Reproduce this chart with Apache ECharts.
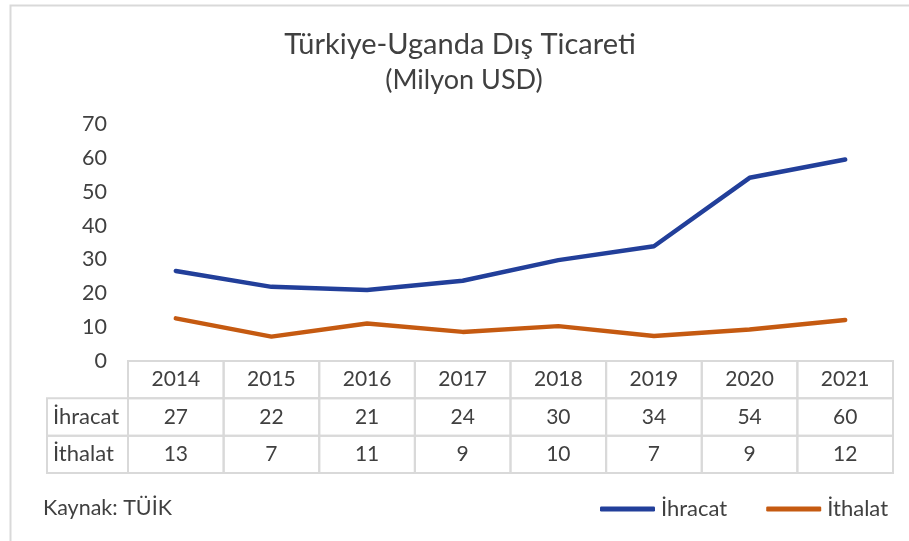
<!DOCTYPE html>
<html><head><meta charset="utf-8">
<script src="https://cdn.jsdelivr.net/npm/echarts@6/dist/echarts.min.js"></script>
<style>html,body{margin:0;padding:0;background:#fff}#c{width:909px;height:541px}</style>
</head><body><div id="c"></div>
<script>
const years = ['2014', '2015', '2016', '2017', '2018', '2019', '2020', '2021'];
const ihracat = [26.6, 21.9, 21.0, 23.7, 29.8, 33.9, 54.1, 59.5];
const ithalat = [12.6, 7.2, 11.1, 8.6, 10.3, 7.4, 9.3, 12.1];
const ihracatTable = ['27', '22', '21', '24', '30', '34', '54', '60'];
const ithalatTable = ['13', '7', '11', '9', '10', '7', '9', '12'];
const seriesNames = ['İhracat', 'İthalat'];
const yMin = 0, yMax = 70, yStep = 10;

const TEXT = '#404040';
const BORDER = '#d9d9d9';
const FONT = 'Lato';
const LABEL_W = 81;

// table cells
const cells = [];
years.forEach((y, i) => cells.push({ col: i, row: 0, text: y, kind: 'cell' }));
ihracatTable.forEach((v, i) => cells.push({ col: i, row: 1, text: v, kind: 'cell' }));
ithalatTable.forEach((v, i) => cells.push({ col: i, row: 2, text: v, kind: 'cell' }));
seriesNames.forEach((n, i) => cells.push({ col: 0, row: i + 1, text: n, kind: 'label' }));

function renderCell(params, api) {
  const cell = cells[params.dataIndex];
  const p = api.coord([api.value(0), api.value(1)]);
  const s = api.size([1, 1]);
  let x = p[0] - s[0] / 2, y = p[1] - s[1] / 2, w = s[0], h = s[1];
  const isLabel = cell.kind === 'label';
  if (isLabel) { x = x - LABEL_W; w = LABEL_W; }
  return {
    type: 'group',
    children: [
      { type: 'rect', shape: { x: x, y: y, width: w, height: h },
        style: { fill: 'none', stroke: BORDER, lineWidth: 2 } },
      { type: 'text',
        style: { text: cell.text, x: isLabel ? x + 6 : x + w / 2, y: y + h / 2,
          align: isLabel ? 'left' : 'center', verticalAlign: 'middle',
          fill: TEXT, font: (isLabel ? '22px ' : '21px ') + FONT } }
    ]
  };
}

const chart = echarts.init(document.getElementById('c'));
chart.setOption({
  backgroundColor: '#fff',
  animation: false,
  graphic: [{ type: 'rect', left: 8, top: 3, shape: { width: 1000, height: 1000 },
    style: { fill: 'none', stroke: BORDER, lineWidth: 2 }, silent: true }],
  title: [
    { text: 'Türkiye-Uganda Dış Ticareti', left: 460, top: 29, textAlign: 'center', padding: 0,
      textStyle: { fontFamily: FONT, fontSize: 29, fontWeight: 'normal', color: TEXT, lineHeight: 32 } },
    { text: '(Milyon USD)', left: 464, top: 64, textAlign: 'center', padding: 0,
      textStyle: { fontFamily: FONT, fontSize: 27, fontWeight: 'normal', color: TEXT, lineHeight: 32 } },
    { text: 'Kaynak: TÜİK', left: 43, top: 496, padding: 0,
      textStyle: { fontFamily: FONT, fontSize: 21.5, fontWeight: 'normal', color: TEXT, lineHeight: 24 } }
  ],
  legend: {
    left: 600, top: 498, padding: 0, itemWidth: 55, itemHeight: 5, itemGap: 39, icon: 'roundRect',
    textStyle: { fontFamily: FONT, fontSize: 22, color: TEXT, padding: [0, 0, 0, 1] },
    data: seriesNames
  },
  grid: [
    { left: 128, right: 16, top: 124, bottom: 180 },
    { left: 128, right: 16, top: 361, height: 112 }
  ],
  xAxis: [
    { type: 'category', gridIndex: 0, data: years, boundaryGap: true,
      axisLine: { show: false }, axisTick: { show: false }, axisLabel: { show: false } },
    { type: 'category', gridIndex: 1, data: years, boundaryGap: true, show: false }
  ],
  yAxis: [
    { type: 'value', gridIndex: 0, min: yMin, max: yMax, interval: yStep,
      axisLine: { show: false }, axisTick: { show: false }, splitLine: { show: false },
      axisLabel: { margin: 21, fontFamily: FONT, fontSize: 21.5, color: TEXT } },
    { type: 'category', gridIndex: 1, data: ['h', 'r1', 'r2'], inverse: true, show: false }
  ],
  series: [
    { name: seriesNames[0], type: 'line', data: ihracat, showSymbol: false, symbol: 'none',
      color: '#223f9a', lineStyle: { width: 4.5, color: '#223f9a', cap: 'round', join: 'round' }, z: 3 },
    { name: seriesNames[1], type: 'line', data: ithalat, showSymbol: false, symbol: 'none',
      color: '#c55a11', lineStyle: { width: 4.5, color: '#c55a11', cap: 'round', join: 'round' }, z: 3 },
    { type: 'custom', xAxisIndex: 1, yAxisIndex: 1, renderItem: renderCell, clip: false,
      data: cells.map(c => [c.col, c.row]), silent: true, z: 2 }
  ]
});
</script></body></html>
